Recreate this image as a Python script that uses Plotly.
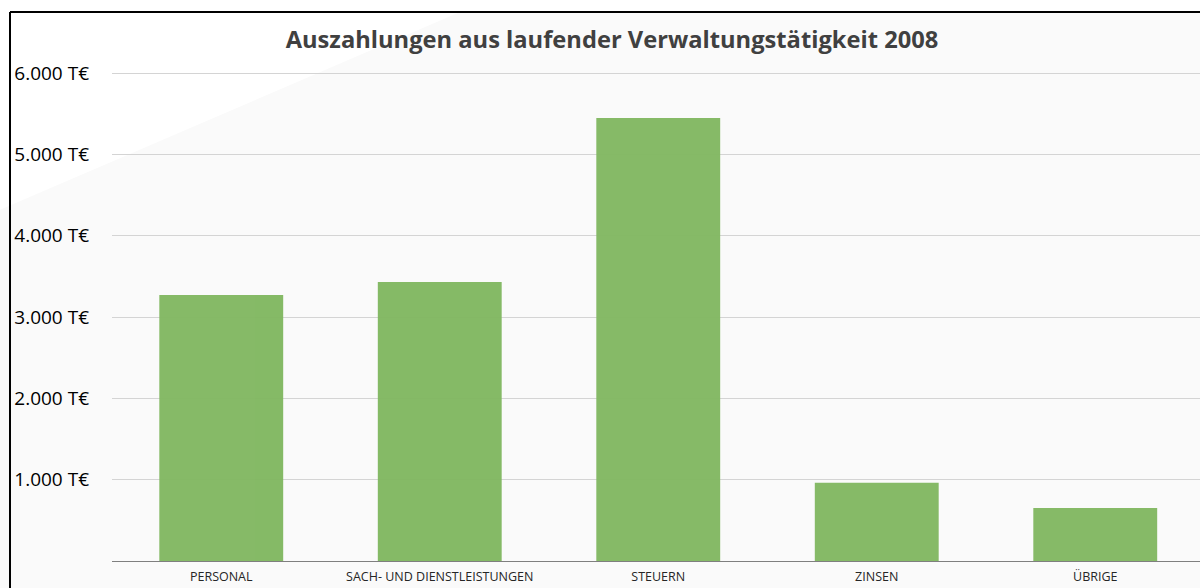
import plotly.graph_objects as go

categories = ["PERSONAL", "SACH- UND DIENSTLEISTUNGEN", "STEUERN", "ZINSEN", "ÜBRIGE"]
values = [3270, 3430, 5447, 963, 652]
tick_values = [1000, 2000, 3000, 4000, 5000, 6000]
tick_labels = ["1.000 T€", "2.000 T€", "3.000 T€", "4.000 T€", "5.000 T€", "6.000 T€"]

BAR_COLOR = "#82B862"
FONT = "Open Sans"

W, H = 1200, 588
L, T, B = 112, 40, 27  # plot area: x 112..1200, y 40..561

fig = go.Figure(
    go.Bar(
        x=categories,
        y=values,
        marker={"color": BAR_COLOR, "line": {"width": 0}},
        opacity=0.97,
        width=0.567,
        hovertemplate="%{x}: %{y:,.0f} T€<extra></extra>",
    )
)

fig.update_layout(
    width=W,
    height=H,
    margin={"l": L, "r": 0, "t": T, "b": B, "autoexpand": False},
    paper_bgcolor="white",
    plot_bgcolor="rgba(0,0,0,0)",
    showlegend=False,
    font={"family": FONT, "color": "#000000"},
    title={
        "text": "<b>Auszahlungen aus laufender Verwaltungstätigkeit 2008</b>",
        "font": {"size": 23.7, "color": "#404040", "family": FONT},
        "x": 612 / W,
        "xanchor": "center",
        "xref": "container",
        "y": 1 - 40 / H,
        "yanchor": "middle",
        "yref": "container",
    },
    xaxis={
        "range": [-0.5, -0.5 + 1088 / 218.5],
        "showgrid": False,
        "showline": True,
        "linecolor": "#7F7F7F",
        "linewidth": 1,
        "ticks": "",
        "tickfont": {"size": 12.5, "color": "#262626"},
        "ticklabelstandoff": 4,
        "automargin": False,
        "zeroline": False,
    },
    yaxis={
        "range": [0, 6000 * 521 / 488],
        "tickvals": tick_values,
        "ticktext": tick_labels,
        "showgrid": True,
        "gridcolor": "#D4D4D4",
        "gridwidth": 1,
        "zeroline": False,
        "showline": False,
        "ticks": "",
        "tickfont": {"size": 19, "color": "#000000"},
        "ticklabelstandoff": 22,
        "automargin": False,
    },
)


# page pixels -> paper coordinates, for the decoration only
def px_x(v):
    return (v - L) / 1088


def px_y(v):
    return (561 - v) / 521


# faint diagonal background tone and the outer frame
fig.add_shape(
    type="path",
    xref="paper",
    yref="paper",
    path=(
        f"M {px_x(460)} {px_y(12)} L {px_x(1200)} {px_y(12)} "
        f"L {px_x(1200)} {px_y(588)} L {px_x(-880)} {px_y(588)} Z"
    ),
    fillcolor="#FAFAFA",
    line={"width": 0},
    layer="below",
)
fig.add_shape(
    type="line", xref="paper", yref="paper",
    x0=px_x(10), x1=px_x(1200), y0=px_y(12), y1=px_y(12),
    line={"color": "#000000", "width": 2},
)
fig.add_shape(
    type="line", xref="paper", yref="paper",
    x0=px_x(10), x1=px_x(10), y0=px_y(12), y1=px_y(588),
    line={"color": "#000000", "width": 2},
)

# drop the default body margin so the figure fills the window exactly
fig.write_html(
    "out.html",
    config={"displayModeBar": False},
    post_script="document.body.style.margin='0';document.body.style.overflow='hidden';",
)
